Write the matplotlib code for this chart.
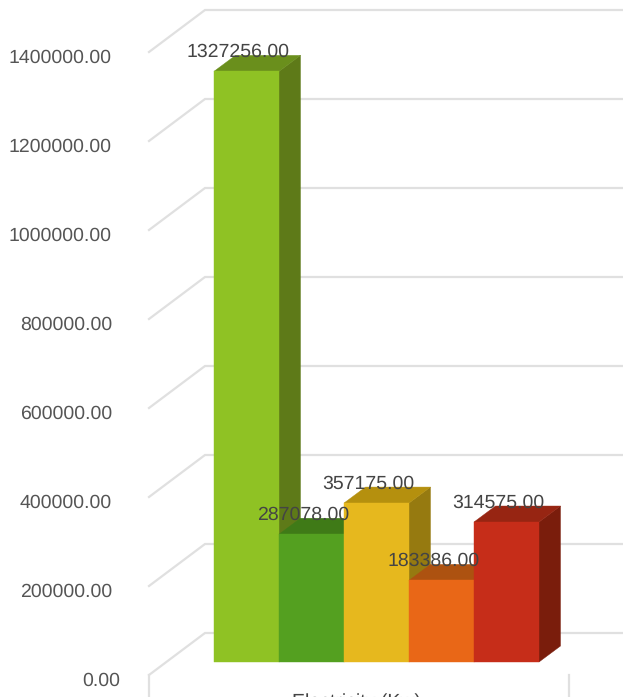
import matplotlib
matplotlib.use("Agg")
import matplotlib.pyplot as plt

values = [1327256.00, 287078.00, 357175.00, 183386.00, 314575.00]
front_colors = ["#8FC224", "#54A020", "#E6B81E", "#E96717", "#C62D19"]
top_colors = ["#6A8F1C", "#3F7A17", "#B5900E", "#AD5210", "#972512"]
side_colors = ["#5E7A18", "#36680F", "#967A10", "#8F440C", "#7A1D0C"]
y_ticks = [0, 200000, 400000, 600000, 800000, 1000000, 1200000, 1400000]
x_label = "Electricity (Kw)"

W = 623
H = 697
bar_px = 65.0        # width of one bar
left_px = 214.0      # left edge of the first bar
base_px = 662.0      # bottom of the bars
per_px = 200000 / 89.0   # value units for one pixel

fig = plt.figure(figsize=(W / 100, H / 100), dpi=100)
ax = fig.add_axes([0, 0, 1, 1])
ax.set_xlim(-left_px / bar_px, (W - left_px) / bar_px)
ax.set_ylim(-(H - base_px) * per_px, base_px * per_px)
ax.axis("off")

plt.rcParams["font.family"] = ["Liberation Sans", "DejaVu Sans"]
plt.rcParams["text.hinting"] = "no_hinting"

dx = 21.5 / bar_px
dy = 16 * per_px
grid_color = "#E0E0E0"
text_grey = "#555555"
text_dark = "#444444"

# walls: slanted part on the left, then the back line
x_front = (149 - left_px) / bar_px
x_back = (205 - left_px) / bar_px
x_end = (W - left_px) / bar_px
for v in y_ticks:
    y_f = v - 13 * per_px
    y_b = v + 29 * per_px
    ax.plot([x_front, x_back, x_end], [y_f, y_b, y_b], color=grid_color, lw=1.6,
            solid_joinstyle="miter", zorder=1)

# the two short ticks under the floor
y_bottom = -(H - base_px) * per_px
for x in [x_front, (569 - left_px) / bar_px]:
    ax.plot([x, x], [-13 * per_px, y_bottom], color=grid_color, lw=1.6, zorder=1)

# bars, left to right so each one covers the one before
for i, v in enumerate(values):
    z = 2 + i
    ax.fill([i + 1, i + 1 + dx, i + 1 + dx, i + 1], [0, dy, v + dy, v],
            color=side_colors[i], lw=0.3, zorder=z)
    ax.fill([i, i + dx, i + 1 + dx, i + 1], [v, v + dy, v + dy, v],
            color=top_colors[i], lw=0.3, zorder=z)
    ax.fill([i, i + 1, i + 1, i], [0, 0, v, v],
            color=front_colors[i], lw=0.3, zorder=z)

for i, v in enumerate(values):
    ax.text(i + 0.5 - 8 / bar_px, v + 19 * per_px, "%.2f" % v, ha="center", va="center",
            fontsize=14, color=text_dark, zorder=20)

for v in y_ticks:
    right = 120 if v == 0 else 112
    ax.text((right - left_px) / bar_px, v - 19 * per_px, "%.2f" % v, ha="right", va="center",
            fontsize=14, color=text_grey)

# cut by the bottom edge of the picture, same as the original
ax.text((356 - left_px) / bar_px, -(702 - base_px) * per_px, x_label, ha="center", va="center",
        fontsize=14, color=text_dark, clip_on=True)

fig.savefig("out.png", dpi=100)
